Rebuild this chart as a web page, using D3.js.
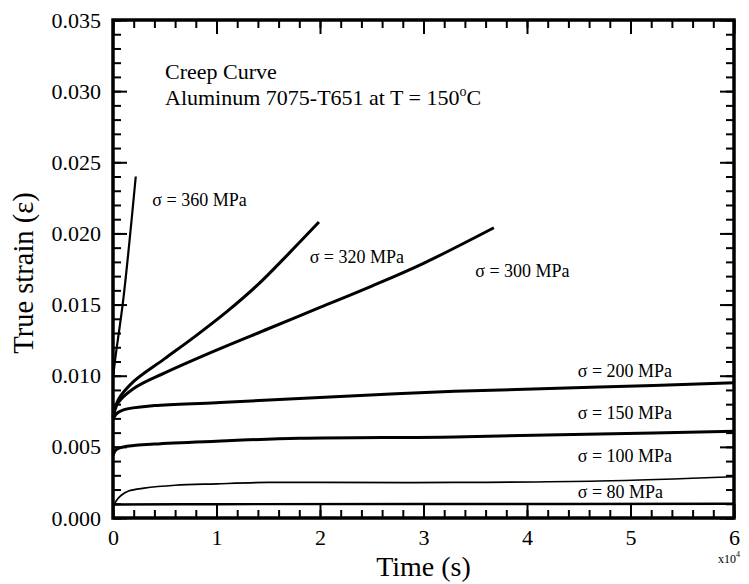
<!DOCTYPE html>
<html>
<head>
<meta charset="utf-8">
<script src="https://cdn.jsdelivr.net/npm/d3@7"></script>
<style>
  body { margin: 0; background: #fff; }
  text { font-family: "Liberation Serif", "Times New Roman", serif; fill: #000; }
</style>
</head>
<body>
<svg id="chart" width="749" height="584"></svg>
<script>
// time in units of 1e4 s, strain dimensionless
const xMajor = [0, 1, 2, 3, 4, 5, 6];
const yMajor = [0, 0.005, 0.010, 0.015, 0.020, 0.025, 0.030, 0.035];

const s80 = [[0, 0.00095], [1, 0.00097], [3, 0.00098], [6, 0.001]];
const s100 = [[0, 0.0007], [0.03, 0.0012], [0.08, 0.0016], [0.15, 0.0019], [0.3, 0.0021], [0.6, 0.0023],
  [1, 0.0024], [1.5, 0.0025], [2, 0.0025], [3.3, 0.0025], [4.7, 0.0026], [6, 0.0029]];
const s150 = [[0, 0.0044], [0.03, 0.0048], [0.1, 0.0050], [0.4, 0.0052], [1, 0.0054], [1.8, 0.0056],
  [3.3, 0.0057], [4.7, 0.0059], [6, 0.0061]];
const s200 = [[0, 0.0069], [0.03, 0.0073], [0.1, 0.0076], [0.4, 0.0079], [1, 0.0081], [1.8, 0.0084],
  [3.3, 0.0089], [4.7, 0.0092], [6, 0.0095]];
const s300 = [[0, 0.0071], [0.05, 0.0081], [0.2, 0.0091], [0.5, 0.0102], [1, 0.0118], [1.5, 0.0133],
  [2, 0.0148], [2.5, 0.0163], [3, 0.0179], [3.68, 0.0204]];
const s320 = [[0, 0.0071], [0.05, 0.0083], [0.2, 0.0096], [0.5, 0.0112], [0.8, 0.0128], [1.1, 0.0145],
  [1.4, 0.0164], [1.7, 0.0186], [1.99, 0.0208]];
const s360 = [[0, 0.0098], [0.02, 0.0111], [0.1, 0.0154], [0.22, 0.0240]];

const series = [
  { name: "σ = 80 MPa", data: s80, w: 2.4, label: [4.49, 0.00143] },
  { name: "σ = 100 MPa", data: s100, w: 1.7, label: [4.49, 0.00396] },
  { name: "σ = 150 MPa", data: s150, w: 3, label: [4.49, 0.00694] },
  { name: "σ = 200 MPa", data: s200, w: 3, label: [4.49, 0.00993] },
  { name: "σ = 300 MPa", data: s300, w: 3, label: [3.50, 0.01694] },
  { name: "σ = 320 MPa", data: s320, w: 3, label: [1.90, 0.0179] },
  { name: "σ = 360 MPa", data: s360, w: 2.2, label: [0.38, 0.02194] },
];

const svg = d3.select("#chart");
const plotL = 113, plotR = 734, plotT = 20, plotB = 518;

const x = d3.scaleLinear().domain([0, 6]).range([plotL, plotR]);
const y = d3.scaleLinear().domain([0, 0.035]).range([plotB, plotT]);

const xMinor = d3.range(0, 6.0001, 0.2);
const yMinor = d3.range(0, 0.03501, 0.001);

// ticks on all four sides, pointing inward
function ticks(axis, vals, size, tr) {
  const g = svg.append("g").attr("transform", tr)
    .call(axis.tickValues(vals).tickSize(size).tickFormat(""));
  g.select(".domain").remove();
  g.selectAll("line").attr("stroke", "#000").attr("stroke-width", 2);
  return g;
}
ticks(d3.axisBottom(x), xMinor, -8, `translate(0,${plotB})`);
ticks(d3.axisTop(x), xMinor, -8, `translate(0,${plotT})`);
ticks(d3.axisLeft(y), yMinor, -8, `translate(${plotL},0)`);
ticks(d3.axisRight(y), yMinor, -8, `translate(${plotR},0)`);
ticks(d3.axisTop(x), xMajor, -14, `translate(0,${plotT})`);
ticks(d3.axisRight(y), yMajor, -14, `translate(${plotR},0)`);

const xAxis = svg.append("g").attr("transform", `translate(0,${plotB})`)
  .call(d3.axisBottom(x).tickValues(xMajor).tickSize(-14).tickPadding(11).tickFormat(d3.format("d")));
const yAxis = svg.append("g").attr("transform", `translate(${plotL},0)`)
  .call(d3.axisLeft(y).tickValues(yMajor).tickSize(-14).tickPadding(12).tickFormat(d3.format(".3f")));
[xAxis, yAxis].forEach((g) => {
  g.select(".domain").remove();
  g.selectAll("line").attr("stroke", "#000").attr("stroke-width", 2);
  g.selectAll("text").attr("font-size", 22).attr("font-family", null);
});

const line = d3.line()
  .x((d) => x(d[0]))
  .y((d) => y(d[1]))
  .curve(d3.curveCatmullRom.alpha(0.5));

svg.append("g")
  .selectAll("path")
  .data(series)
  .join("path")
  .attr("d", (d) => line(d.data))
  .attr("fill", "none")
  .attr("stroke", "#000")
  .attr("stroke-width", (d) => d.w)
  .attr("stroke-linejoin", "round");

svg.append("g")
  .selectAll("text")
  .data(series)
  .join("text")
  .attr("x", (d) => x(d.label[0]))
  .attr("y", (d) => y(d.label[1]))
  .attr("font-size", 18)
  .text((d) => d.name);

// frame
svg.append("rect")
  .attr("x", plotL).attr("y", plotT)
  .attr("width", plotR - plotL).attr("height", plotB - plotT)
  .attr("fill", "none").attr("stroke", "#000").attr("stroke-width", 3.5);

svg.append("text").attr("x", 165).attr("y", 79).attr("font-size", 22).text("Creep Curve");
const t2 = svg.append("text").attr("x", 165).attr("y", 105).attr("font-size", 22);
t2.append("tspan").text("Aluminum 7075-T651 at T = 150");
t2.append("tspan").attr("font-size", 14).attr("dy", -9).text("o");
t2.append("tspan").attr("dy", 9).text("C");

svg.append("text")
  .attr("x", (plotL + plotR) / 2).attr("y", 575.5)
  .attr("text-anchor", "middle").attr("font-size", 28)
  .text("Time (s)");

svg.append("text")
  .attr("transform", "translate(33,273) rotate(-90)")
  .attr("text-anchor", "middle").attr("font-size", 28.5)
  .text("True strain (ε)");

const mult = svg.append("text").attr("x", 718).attr("y", 563).attr("font-size", 12);
mult.append("tspan").text("x10");
mult.append("tspan").attr("font-size", 8).attr("dy", -6).text("4");
</script>
</body>
</html>
